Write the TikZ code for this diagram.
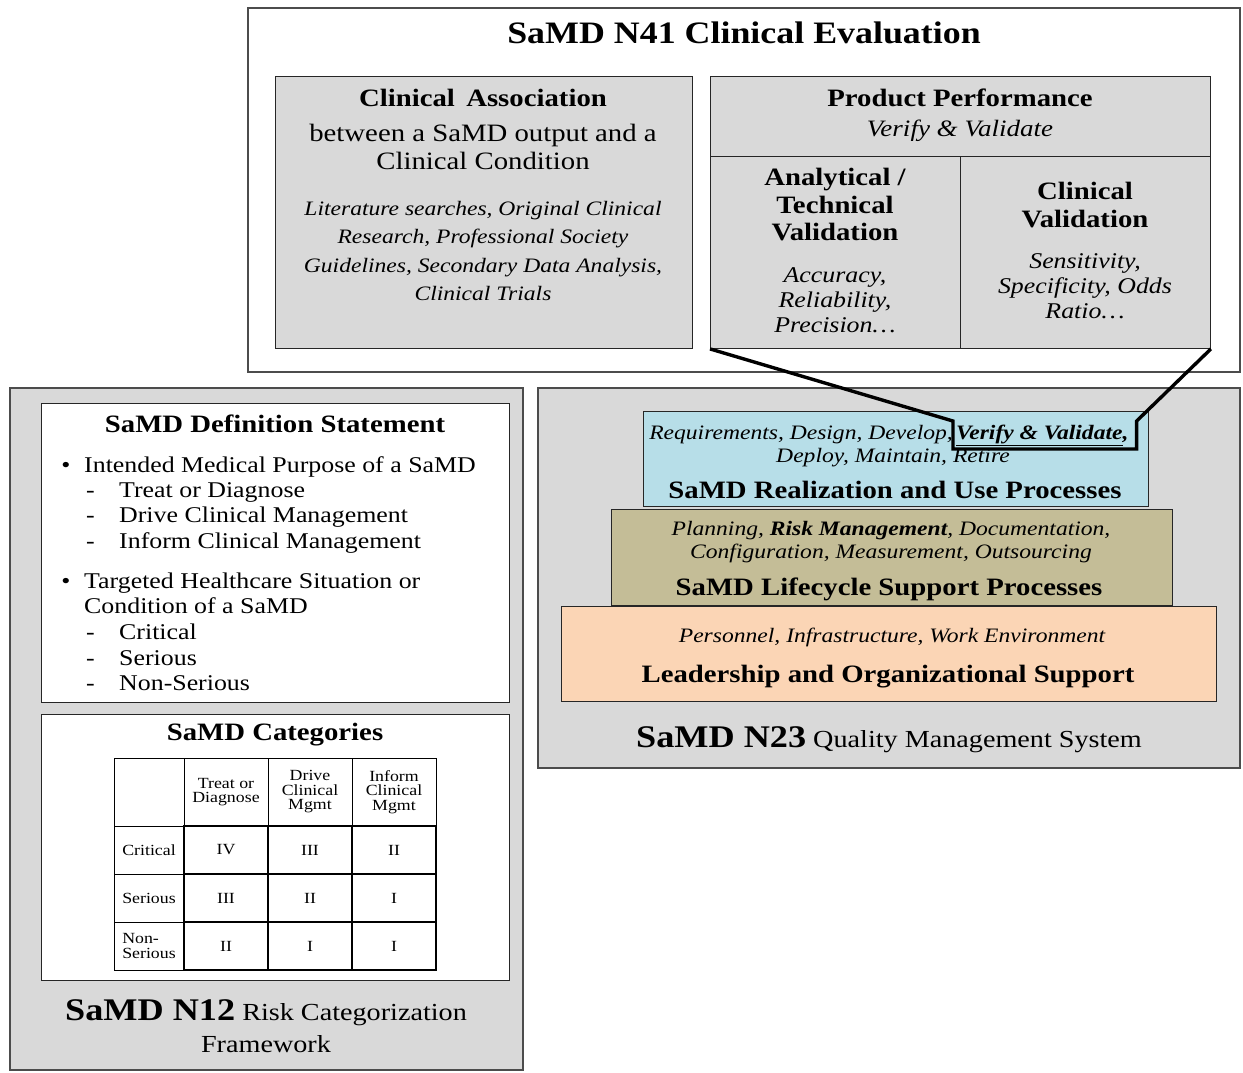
\documentclass[tikz,border=0pt]{standalone}
\usepackage{fontspec}
\setmainfont{Liberation Serif}[FakeStretch=1.15]
\usetikzlibrary{positioning}

\definecolor{boxgray}{HTML}{D9D9D9}
\definecolor{realblue}{HTML}{B7DEE8}
\definecolor{lifeolive}{HTML}{C4BD97}
\definecolor{leadpeach}{HTML}{FBD5B5}
\newcommand{\fsz}[2]{\fontsize{#1pt}{#2pt}\selectfont}

\begin{document}
\begin{tikzpicture}[
		x=1pt,y=-1pt,
		panel/.style={draw=black!70,fill=boxgray,line width=1.2pt},
		card/.style={draw=black!85,line width=0.9pt,inner sep=0pt},
		title/.style={font=\fsz{31.2}{36}\bfseries},
		head/.style={font=\fsz{25}{27.5}\bfseries,align=center},
		body/.style={font=\fsz{25}{28},align=center},
		note/.style={font=\fsz{20.5}{28.3}\itshape,align=center},
		small/.style={font=\fsz{22.5}{25}\itshape,align=center},
		layer/.style={font=\fsz{20.5}{23}\itshape,align=center},
		item/.style={font=\fsz{22.5}{25},anchor=west,inner sep=0pt,text height=15pt,text depth=5pt},
		cell/.style={draw,line width=0.8pt,minimum width=84pt,minimum height=48pt,inner sep=0pt,font=\fsz{15.5}{16}},
		grade/.style={cell,line width=2.6pt},
		lens/.style={line width=3.4pt,line join=miter}
		]
		\useasboundingbox (0,0) rectangle (1243,1072);
		
		% N41 clinical evaluation
		\draw[panel,fill=white] (248,8) rectangle (1240,372);
		\node[title] (t41) at (744,33) {SaMD N41 Clinical Evaluation};
		\node[card,fill=boxgray,anchor=north west,minimum width=417pt,minimum height=272pt] (ca) at (275,76) {};
		\node[head] (cahead) at (483,98) {Clinical\, Association};
		\node[body] (cabody) at (483,147) {between a SaMD output and a\\Clinical Condition};
		\node[note] (canote) at (483,251) {Literature searches, Original Clinical\\Research, Professional Society\\Guidelines, Secondary Data Analysis,\\Clinical Trials};
		\node[card,fill=boxgray,anchor=north west,minimum width=500pt,minimum height=272pt] (pp) at (710,76) {};
		\draw[card] (710,156) -- (1210,156) (960,156) -- (960,348);
		\node[head] (pphead) at (960,98) {Product Performance};
		\node[font=\fsz{23.5}{25}\itshape] (ppsub) at (960,131) {Verify \& Validate};
		\node[head] (atv) at (835,205) {Analytical /\\Technical\\Validation};
		\node[small] (atvnote) at (835,300) {Accuracy,\\Reliability,\\Precision\ldots};
		\node[head] (cv) at (1085,205) {Clinical\\Validation};
		\node[small] (cvnote) at (1085,286) {Sensitivity,\\Specificity, Odds\\Ratio\ldots};
		
		% N12 risk categorization
		\draw[panel] (10,388) rectangle (523,1070);
		\draw[card,fill=white] (41,403) rectangle (509,702);
		\node[head] (defn) at (275,424) {SaMD Definition Statement};
		\node[item] (b1) at (84,467) {Intended Medical Purpose of a SaMD};
		\node[item] (b2) at (84,583) {Targeted Healthcare Situation or};
		\node[item] (b2b) at (84,608) {Condition of a SaMD};
		\foreach \y in {467,583}
			\node[item,anchor=center] at (66,\y) {\textbullet};
		\foreach \y/\t in {492/Treat or Diagnose,517/Drive Clinical Management,543/Inform Clinical Management,634/Critical,660/Serious,685/Non-Serious}{
			\node[item] at (86,\y) {-};
			\node[item] (d\y) at (119,\y) {\t};
		}
		\draw[card,fill=white] (41,714) rectangle (509,980);
		\node[head] (cats) at (275,735) {SaMD Categories};
		\node[cell,minimum width=70pt,minimum height=68pt] (h0) at (149,792) {};
		\foreach \x/\t in {226/Treat or\\Diagnose,310/Drive\\Clinical\\Mgmt,394/Inform\\Clinical\\Mgmt}
			\node[cell,minimum height=68pt,align=center,font=\fsz{15.5}{14.5}] (h\x) at (\x,792) {\t};
		\foreach \y/\l/\a/\b/\c in {850/Critical/IV/III/II,898/Serious/III/II/I,946/Non-\\Serious/II/I/I}{
			\node[cell,minimum width=70pt,align=left,font=\fsz{15.5}{15}] (r\y) at (149,\y) {\l};
			\node[grade] (g\y a) at (226,\y) {\a};
			\node[grade] (g\y b) at (310,\y) {\b};
			\node[grade] (g\y c) at (394,\y) {\c};
		}
		\node[font=\fsz{24.5}{28}] (n12) at (266,1013) {{\fsz{31.5}{34}\bfseries SaMD N12} Risk Categorization};
		\node[font=\fsz{24.5}{28}] (n12b) at (266,1044) {Framework};
		
		% N23 quality management system
		\draw[panel] (538,388) rectangle (1240,768);
		\node[card,fill=realblue,anchor=north west,minimum width=505pt,minimum height=95pt] (real) at (643,411) {};
		\node[card,fill=lifeolive,anchor=north west,minimum width=561pt,minimum height=96pt] (life) at (611,509) {};
		\node[card,fill=leadpeach,anchor=north west,minimum width=655pt,minimum height=95pt] (lead) at (561,606) {};
		\node[layer,anchor=east,inner sep=0pt] (req) at (953,435) {Requirements, Design, Develop,};
		\node[layer,anchor=west,inner xsep=3pt,minimum height=24pt] (vv) at (req.east) {\bfseries\underline{Verify \& Validate},\kern5pt};
		\node[layer] (dep) at (893,458) {Deploy, Maintain, Retire};
		\node[head] (realhead) at (895,490) {SaMD Realization and Use Processes};
		\node[layer] (plan) at (891,542) {Planning, \textbf{Risk Management}, Documentation,\\Configuration, Measurement, Outsourcing};
		\node[head] (lifehead) at (889,589) {SaMD Lifecycle Support Processes};
		\node[layer] (pers) at (892,637) {Personnel, Infrastructure, Work Environment};
		\node[head] (leadhead) at (888,677) {Leadership and Organizational Support};
		\node[font=\fsz{24.5}{28}] (n23) at (889,740) {{\fsz{31.5}{34}\bfseries SaMD N23} Quality Management System};
		
		% lens from product performance to verify & validate
		\draw[lens] (pp.south west) -- (vv.north west) -- (vv.south west) -- (vv.south east) -- (vv.north east) -- (pp.south east);
	\end{tikzpicture}
\end{document}
